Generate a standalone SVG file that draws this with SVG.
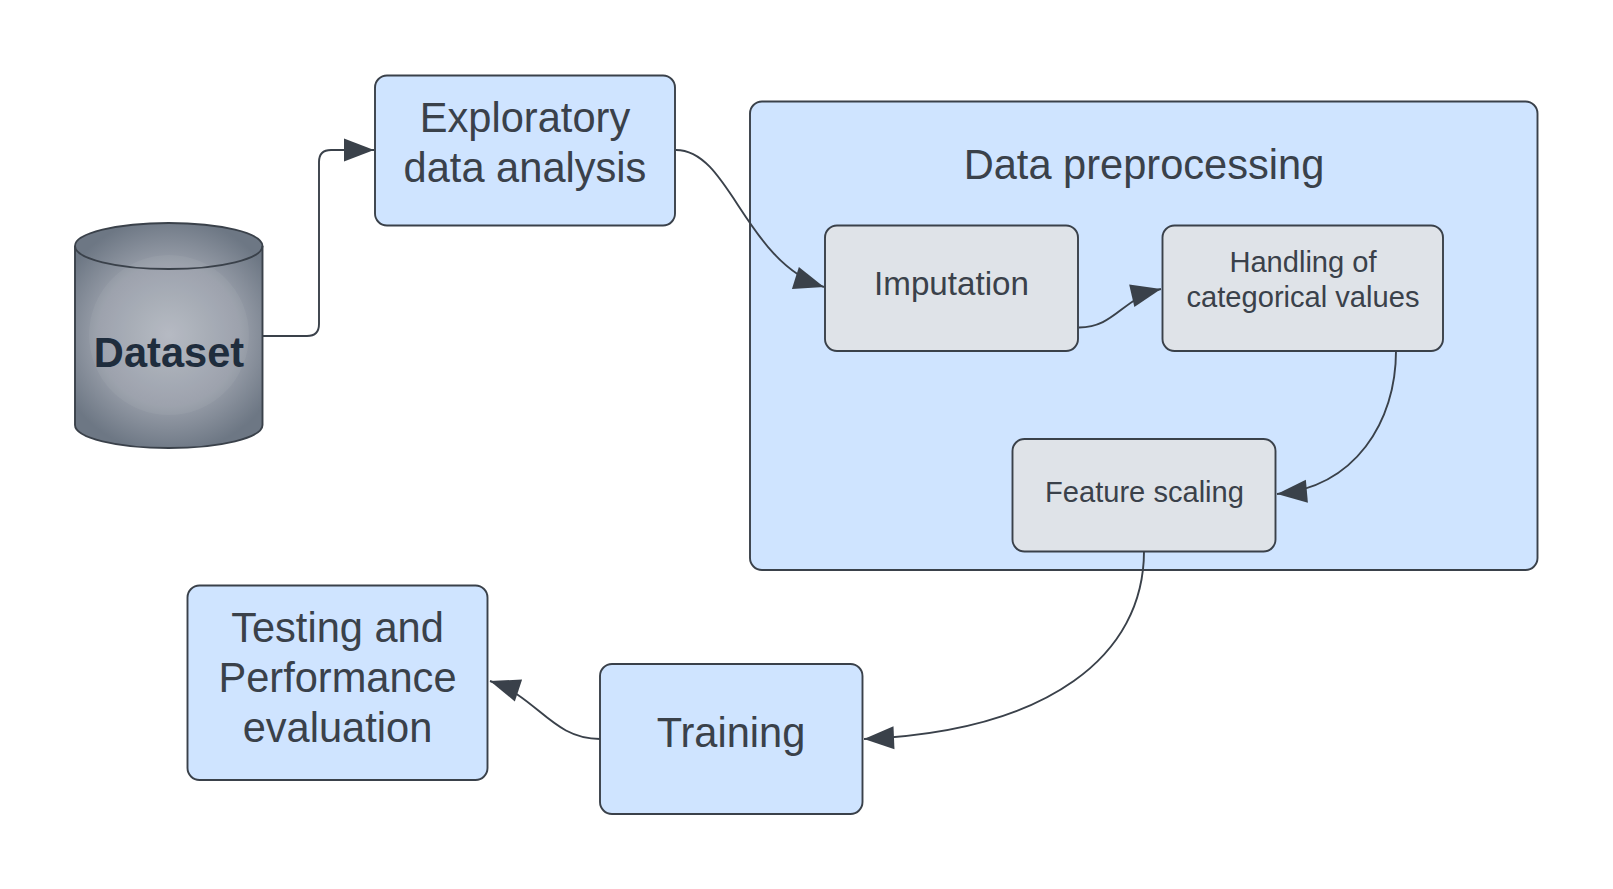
<svg xmlns="http://www.w3.org/2000/svg" width="1613" height="889" viewBox="0 0 1613 889">
<style>
.b{stroke:#3a414a;stroke-width:1.9}
.blue{fill:#cfe4ff}
.gray{fill:#dfe3e8}
text{font-family:"Liberation Sans",Arial,sans-serif;fill:#3a414a;text-anchor:middle}
.c{fill:none;stroke:#3a414a;stroke-width:1.9;marker-end:url(#arrow)}
</style>
<defs>
<marker id="arrow" markerUnits="userSpaceOnUse" markerWidth="34" markerHeight="28" refX="31" refY="14" orient="auto"><path d="M1,2.500 L31,14 L1,25.500 Z" fill="#3a414a"/></marker>
<radialGradient id="cyl" gradientUnits="userSpaceOnUse" cx="169" cy="335" r="118"><stop offset="0" stop-color="#b2b7c0"/><stop offset=".6" stop-color="#989ea9"/><stop offset="1" stop-color="#6d7784"/></radialGradient>
</defs>
<rect width="1613" height="889" fill="#fff"/>
<g id="n-dataset">
<path class="b" d="M75,246 V425 A93.500,23 0 0 0 262.500,425 V246 A93.500,23 0 0 0 75,246 Z" fill="url(#cyl)"/>
<circle cx="169" cy="335" r="80" fill="#fff" fill-opacity=".05"/>
<path class="b" d="M75,246 A93.500,23 0 0 0 262.500,246" fill="none"/>
<text x="169" y="366.500" font-size="41.600" font-weight="700" style="fill:#1f2d3d">Dataset</text>
</g>
<g id="n-eda">
<rect class="b blue" x="375" y="75.500" width="300" height="150" rx="12"/>
<text x="525" y="131.500" font-size="41.600">Exploratory</text>
<text x="525" y="181.500" font-size="41.600">data analysis</text>
</g>
<g id="n-prep">
<rect class="b blue" x="750" y="101.500" width="787.500" height="468.500" rx="12"/>
<text x="1144" y="179" font-size="41.600">Data preprocessing</text>
</g>
<g id="n-imp">
<rect class="b gray" x="825" y="225.500" width="253" height="125.500" rx="12"/>
<text x="951.500" y="295" font-size="33.200">Imputation</text>
</g>
<g id="n-cat">
<rect class="b gray" x="1162.500" y="225.500" width="280.500" height="125.500" rx="12"/>
<text x="1303" y="272" font-size="29.100">Handling of</text>
<text x="1303" y="307" font-size="29.100">categorical values</text>
</g>
<g id="n-scale">
<rect class="b gray" x="1012.500" y="439" width="263" height="112.500" rx="12"/>
<text x="1144.500" y="502" font-size="29.100">Feature scaling</text>
</g>
<g id="n-test">
<rect class="b blue" x="187.500" y="585.500" width="300" height="194.500" rx="12"/>
<text x="337.500" y="642" font-size="41.600">Testing and</text>
<text x="337.500" y="692" font-size="41.600">Performance</text>
<text x="337.500" y="742" font-size="41.600">evaluation</text>
</g>
<g id="n-train">
<rect class="b blue" x="600" y="664" width="262.500" height="150" rx="12"/>
<text x="731" y="746.500" font-size="41.600">Training</text>
</g>
<g id="connectors">
<path class="c" d="M263,336 H307 Q319,336 319,324 V162 Q319,150 331,150 H374"/>
<path class="c" d="M676,150 C730,150 745,262 824,287"/>
<path class="c" d="M1079,327.500 C1115,327.500 1122,298 1161,289"/>
<path class="c" d="M1396,351 C1396,422 1355,487 1277,494"/>
<path class="c" d="M1144,551 C1144,655 1050,731 864,739"/>
<path class="c" d="M600,739 C552,739 538,697 490,681"/>
</g>
</svg>
